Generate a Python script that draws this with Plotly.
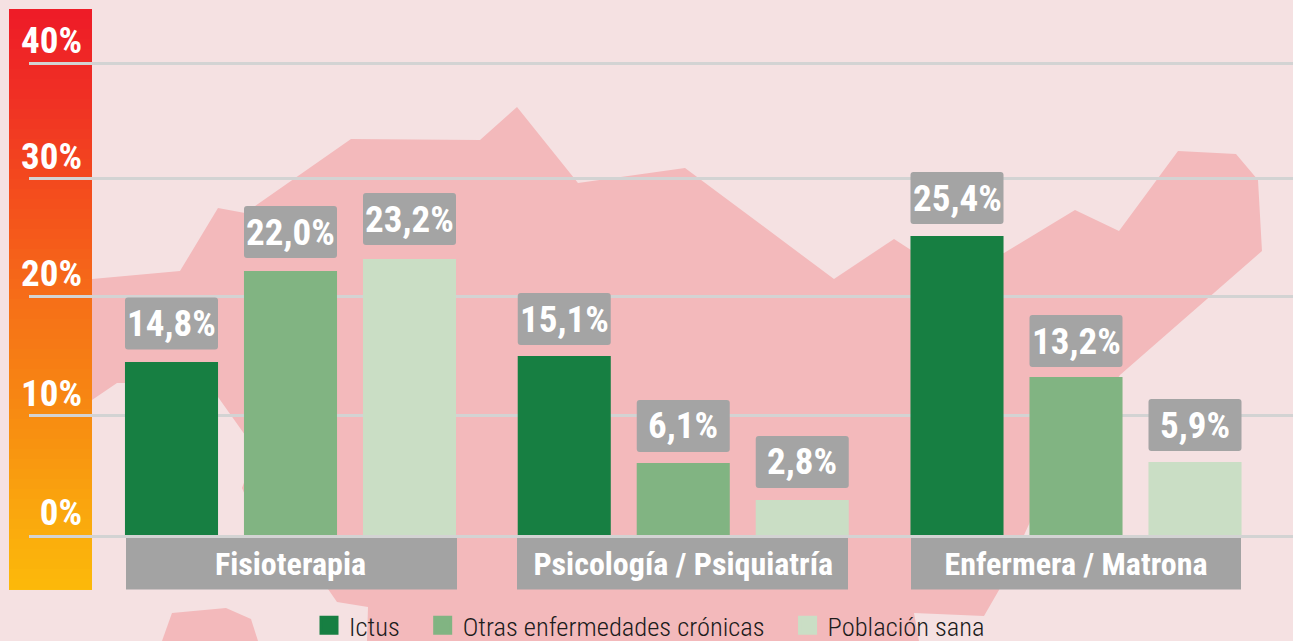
import plotly.graph_objects as go

W, H = 1293, 641

# ---- data ----
categories = ["Fisioterapia", "Psicología / Psiquiatría", "Enfermera / Matrona"]
series_names = ["Ictus", "Otras enfermedades crónicas", "Población sana"]
ictus = [14.67, 15.18, 25.36]
otras = [22.39, 6.11, 13.40]
sana = [23.41, 2.97, 6.19]
ictus_labels = ["14,8%", "15,1%", "25,4%"]
otras_labels = ["22,0%", "6,1%", "13,2%"]
sana_labels = ["23,2%", "2,8%", "5,9%"]
tick_values = [10.14, 20.27, 30.24, 40]
tick_labels = ["10%", "20%", "30%", "40%"]
zero_label = "0%"

# ---- style ----
BG = "#f5e1e2"
MAP = "#f3b9bb"
GRID = "#d3d3d3"
GREY = "#a4a4a4"
COLORS = ["#177f42", "#81b482", "#cadec5"]
BOLD = "Roboto Condensed, Liberation Sans Narrow, Arial Narrow, sans-serif"
PAD = "\u00a0\u00a0\u00a0"
LABEL_GAPS = [[12.5, 11, 12], [13, 11, 10], [14, 12, 11]]
BASE_PX = 535
PX_PER_UNIT = 11.79

# backdrop silhouette, outlined in page pixels
MAP_MAIN = [(60, 279), (92, 279), (180, 271), (218, 208), (245, 213), (351, 139), (480, 140), (517, 107),
            (578, 183), (685, 168), (834, 279), (894, 239), (911, 250), (1004, 253), (1075, 210), (1119, 231),
            (1178, 151), (1236, 154), (1258, 180), (1262, 251), (1120, 375), (1040, 500), (999, 590),
            (984, 616), (914, 613), (919, 641), (367, 641), (368, 607), (337, 602), (328, 589), (320, 560),
            (245, 495), (242, 488), (245, 480), (245, 435), (218, 397), (125, 383), (117, 383), (92, 400), (60, 420)]
MAP_ISLE = [(162, 641), (172, 613), (226, 608), (251, 619), (258, 641)]
GRADIENT_STOPS = [(9, (238, 28, 39)), (100, (240, 50, 36)), (200, (244, 80, 28)), (300, (246, 112, 24)),
                  (400, (247, 136, 18)), (500, (250, 165, 14)), (590, (252, 187, 10))]


def px(x):
    return x / W


def py(y):
    return 1 - y / H


def poly(points):
    return "M" + "L".join(f"{px(x):.5f},{py(y):.5f}" for x, y in points) + "Z"


def grad(y):
    for (y0, c0), (y1, c1) in zip(GRADIENT_STOPS, GRADIENT_STOPS[1:]):
        if y <= y1:
            t = (y - y0) / (y1 - y0)
            return "rgb(%d,%d,%d)" % tuple(round(a + (b - a) * t) for a, b in zip(c0, c1))
    return "rgb(252,187,10)"


shapes = []
shapes.append(dict(type="path", path=poly(MAP_MAIN), xref="paper", yref="paper", fillcolor=MAP, line_width=0, layer="below"))
shapes.append(dict(type="path", path=poly(MAP_ISLE), xref="paper", yref="paper", fillcolor=MAP, line_width=0, layer="below"))
for top in range(9, 590, 10):
    shapes.append(dict(type="rect", xref="paper", yref="paper", x0=px(9), x1=px(92), y0=py(top), y1=py(590),
                       fillcolor=grad(top), line_width=0, layer="below"))
for x0, x1 in [(126, 457), (517, 848), (911, 1241)]:
    shapes.append(dict(type="rect", xref="paper", yref="paper", x0=px(x0), x1=px(x1), y0=py(536.5), y1=py(589.5),
                       fillcolor="#a3a3a3", line_width=0, layer="below"))

GROUP_STEP = 392.75
SLOT = 119 / GROUP_STEP
fig = go.Figure()
all_vals = [ictus, otras, sana]
all_labels = [ictus_labels, otras_labels, sana_labels]
annotations = []
for s, (name, vals, labs, col) in enumerate(zip(series_names, all_vals, all_labels, COLORS)):
    fig.add_trace(go.Bar(x=categories, y=vals, name=name, marker=dict(color=col, line_width=0),
                         showlegend=False, hoverinfo="skip"))
    for i, (v, lab) in enumerate(zip(vals, labs)):
        xc = i + (s - 1) * SLOT
        r = 3
        a = LABEL_GAPS[s][i]
        b = a + 52
        hw = 46.5
        path = (f"M{-hw + r},{a}L{hw - r},{a}Q{hw},{a} {hw},{a + r}L{hw},{b - r}Q{hw},{b} {hw - r},{b}"
                f"L{-hw + r},{b}Q{-hw},{b} {-hw},{b - r}L{-hw},{a + r}Q{-hw},{a} {-hw + r},{a}Z")
        shapes.append(dict(type="path", path=path, xref="x", yref="y", xsizemode="pixel", ysizemode="pixel",
                           xanchor=xc, yanchor=v, fillcolor=GREY, line_width=0, layer="above"))
        annotations.append(dict(x=xc, y=v, xref="x", yref="y", text=lab, showarrow=False, yanchor="middle",
                                yshift=a + 26, font=dict(family=BOLD, size=37, color="white", weight="bold")))

# legend entries with the large square swatches of the reference
for name, col in zip(series_names, COLORS):
    fig.add_trace(go.Scatter(x=[None], y=[None], mode="markers", name=name + PAD,
                             marker=dict(symbol="square", size=16, color=col, line=dict(width=3, color=col))))

fig.update_layout(
    width=W, height=H, autosize=False, margin=dict(l=0, r=0, t=0, b=0, pad=0, autoexpand=False),
    paper_bgcolor=BG, plot_bgcolor="rgba(0,0,0,0)",
    barmode="group", bargap=0.091, bargroupgap=0.218,
    shapes=shapes, annotations=annotations,
    showlegend=True,
    legend=dict(orientation="h", x=px(309), xanchor="left", y=py(625.5), yanchor="middle", itemsizing="trace",
                bgcolor="rgba(0,0,0,0)", font=dict(family="Roboto Condensed Light, Liberation Sans Narrow, sans-serif", size=26.5, color="#1c1c1c")),
    xaxis=dict(domain=[px(29), 1], range=[-(290.5 - 29) / GROUP_STEP, (W - 290.5) / GROUP_STEP],
               type="category", categoryorder="array", categoryarray=categories,
               showgrid=False, showline=True, linecolor=GRID, linewidth=2.5, ticks="", ticklen=0,
               ticklabelstandoff=-1, tickfont=dict(family=BOLD, size=32, color="white", weight="bold"), fixedrange=True),
    yaxis=dict(domain=[py(BASE_PX), 1], range=[0, BASE_PX / PX_PER_UNIT], anchor="free", position=px(82),
               tickmode="array", tickvals=[0] + tick_values, ticktext=[zero_label] + tick_labels,
               ticklabelposition="outside top", ticklabelshift=3, ticks="", ticklen=0,
               showgrid=True, gridcolor=GRID, gridwidth=3, zeroline=False, showline=False,
               tickfont=dict(family=BOLD, size=37, color="white", weight="bold"), fixedrange=True),
)

fig.write_html("out.html", config={"displayModeBar": False},
               post_script="document.body.style.margin='0';document.body.style.overflow='hidden';")
